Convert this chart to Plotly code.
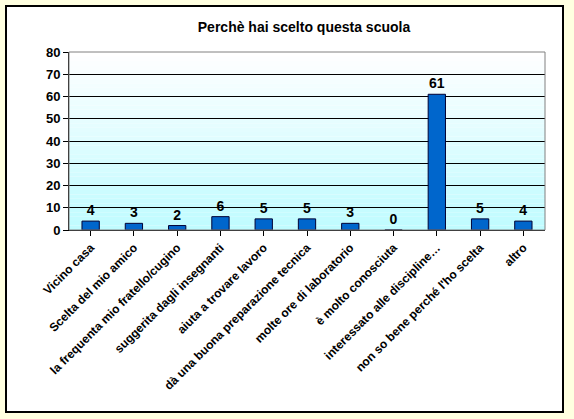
import plotly.graph_objects as go

# dati del grafico
categorie = ["Vicino casa", "Scelta del mio amico", "la frequenta mio fratello/cugino",
             "suggerita dagli insegnanti", "aiuta a trovare lavoro",
             "dà una buona preparazione tecnica", "molte ore di laboratorio",
             "è molto conosciuta", "interessato alle discipline…",
             "non so bene perché l'ho scelta", "altro"]
valori = [4, 3, 2, 6, 5, 5, 3, 0, 61, 5, 4]
y_ticks = [0, 10, 20, 30, 40, 50, 60, 70, 80]

fig = go.Figure()
fig.add_trace(go.Bar(
    x=categorie, y=valori,
    text=valori, textposition="outside", cliponaxis=False,
    textfont=dict(family="Liberation Sans Narrow, Arial Narrow, Liberation Sans", size=14,
                  color="black", weight="bold"),
    marker=dict(color="#0066CC", line=dict(color="#000033", width=1)),
))

# sfondo sfumato (bianco in alto, azzurro in basso)
n = 40
shapes = []
for i in range(n):
    t = i / (n - 1)
    r = int(255 + (192 - 255) * t)
    g = int(255 + (252 - 255) * t)
    shapes.append(dict(type="rect", xref="x domain", yref="y domain",
                       x0=0, x1=1, y0=1 - (i + 1) / n, y1=1 - i / n,
                       fillcolor=f"rgb({r},{g},255)", line=dict(width=0), layer="below"))
# cornice bianca del grafico
shapes.insert(0, dict(type="rect", xref="paper", yref="paper",
                      x0=-63 / 476, x1=1 + 18 / 476, y0=-182 / 178, y1=1 + 46 / 178,
                      fillcolor="white", line=dict(color="black", width=2), layer="below"))
# bordo grigio dell'area del tracciato
shapes.append(dict(type="rect", xref="x domain", yref="y domain", x0=0, x1=1, y0=0, y1=1,
                   line=dict(color="#808080", width=1), layer="above"))

fig.update_layout(
    width=574, height=419,
    margin=dict(l=69, r=29, t=52, b=189),
    paper_bgcolor="#FFFFE0",
    plot_bgcolor="rgba(0,0,0,0)",
    shapes=shapes,
    bargap=0.6,
    showlegend=False,
    title=dict(text="<b>Perchè hai scelto questa scuola</b>", x=304 / 574, xanchor="center",
               y=1 - 27 / 419, yanchor="middle",
               font=dict(family="Liberation Sans, Arial", size=14, color="black")),
    font=dict(family="Liberation Sans, Arial", color="black"),
)
fig.update_xaxes(tickangle=-45, ticks="outside", ticklen=5, tickcolor="black",
                 showline=True, linecolor="black", linewidth=1,
                 tickfont=dict(family="Liberation Sans, Arial", size=12, weight="bold"),
                 showgrid=False)
fig.update_yaxes(range=[0, 80], tickvals=y_ticks, ticks="outside", ticklen=5, tickcolor="black",
                 showline=True, linecolor="black", linewidth=1,
                 showgrid=True, gridcolor="black", gridwidth=1, zeroline=False,
                 tickfont=dict(family="Liberation Sans, Arial", size=13, weight="bold"))

fig.write_html("out.html", config={"displayModeBar": False},
               post_script="document.body.style.margin='0px';")
